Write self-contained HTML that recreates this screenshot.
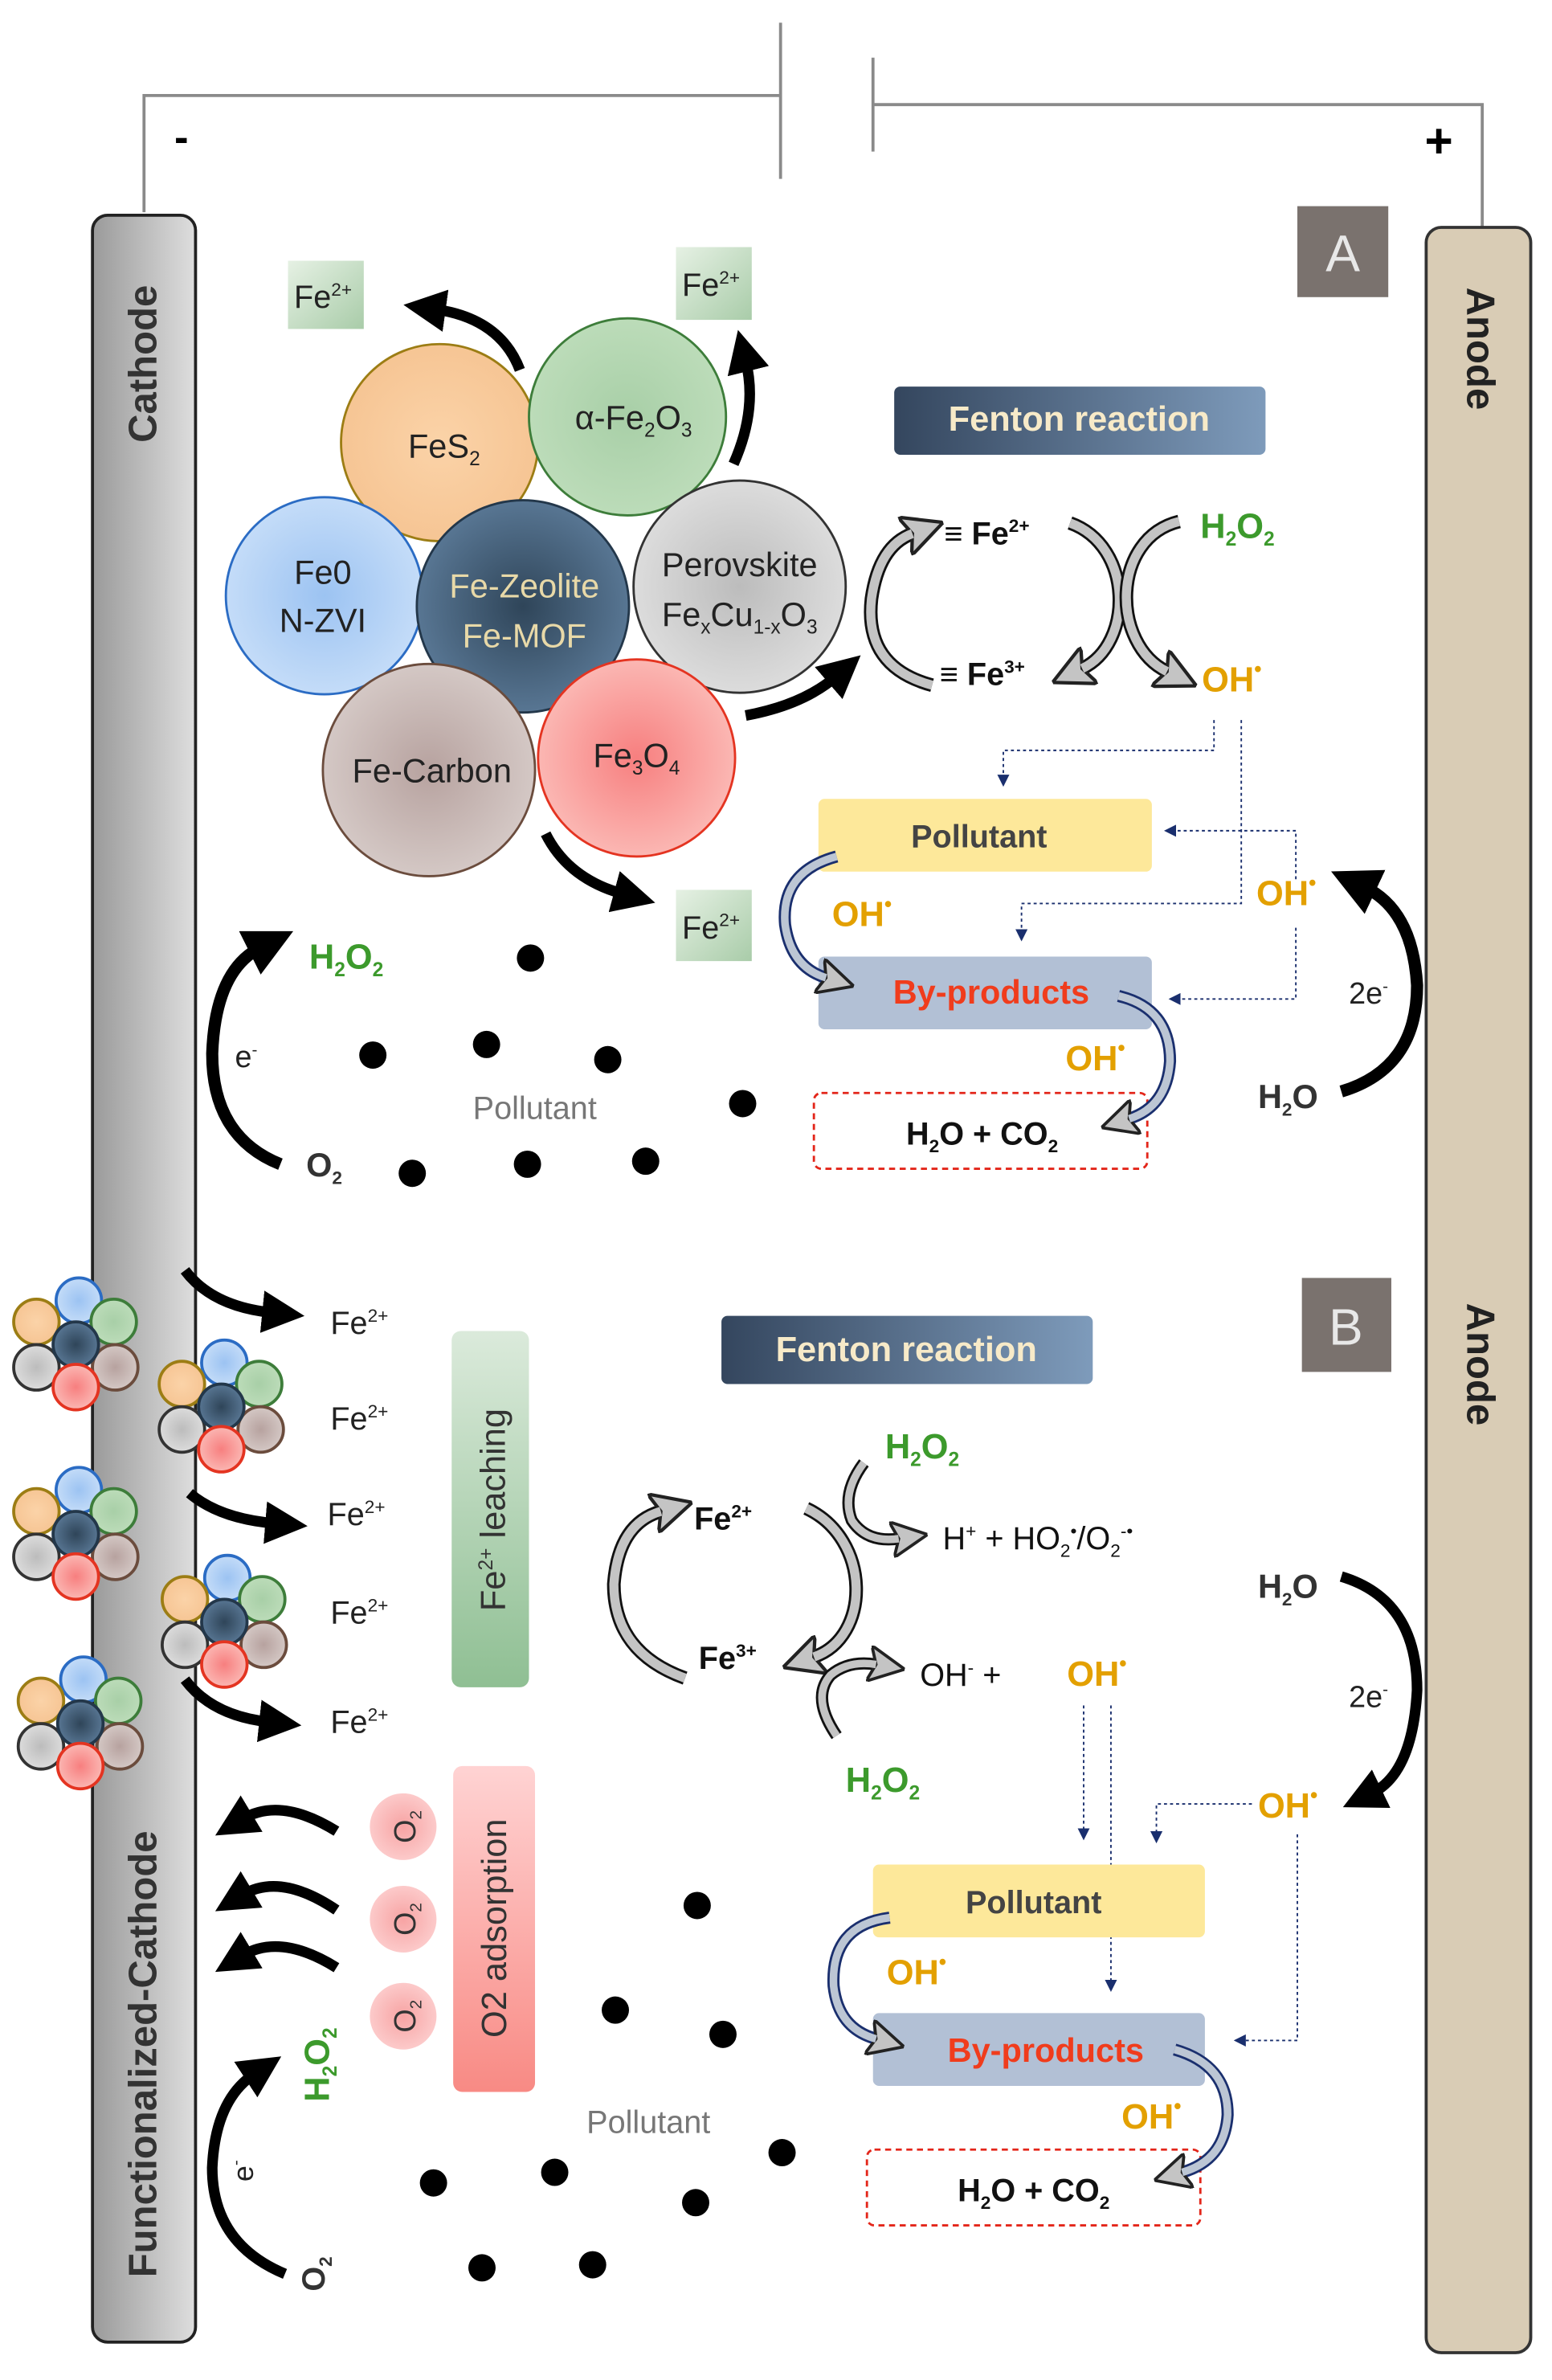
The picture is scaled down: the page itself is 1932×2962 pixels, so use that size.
<!DOCTYPE html>
<html><head><meta charset="utf-8"><style>
html,body{margin:0;padding:0;background:#fff}
svg{display:block}
text{font-family:"Liberation Sans","DejaVu Sans",sans-serif}
</style></head><body>
<svg width="1932" height="2962" viewBox="0 0 1024 1570" xmlns="http://www.w3.org/2000/svg">
<defs>
<linearGradient id="cath" x1="0" x2="1"><stop offset="0" stop-color="#9a9a9a"/><stop offset="1" stop-color="#dedede"/></linearGradient>
<linearGradient id="fent" x1="0" x2="1"><stop offset="0" stop-color="#34465e"/><stop offset="1" stop-color="#7e9bbb"/></linearGradient>
<linearGradient id="grn" x1="0" x2="0" y1="0" y2="1"><stop offset="0" stop-color="#dbeadb"/><stop offset="1" stop-color="#8fbf93"/></linearGradient>
<linearGradient id="red" x1="0" x2="0" y1="0" y2="1"><stop offset="0" stop-color="#ffd3d3"/><stop offset="1" stop-color="#f88a84"/></linearGradient>
<linearGradient id="feb" x1="0" x2="1" y1="0" y2="1"><stop offset="0" stop-color="#e6f1e4"/><stop offset="1" stop-color="#a9cca9"/></linearGradient>
<radialGradient id="gO"><stop offset="0" stop-color="#fbd3a8"/><stop offset="1" stop-color="#f6c594"/></radialGradient>
<radialGradient id="gG"><stop offset="0" stop-color="#a8cfa7"/><stop offset="1" stop-color="#bcdcb9"/></radialGradient>
<radialGradient id="gB"><stop offset="0" stop-color="#9cc3f2"/><stop offset="1" stop-color="#c4dcf8"/></radialGradient>
<radialGradient id="gD"><stop offset="0" stop-color="#2f4559"/><stop offset="1" stop-color="#587693"/></radialGradient>
<radialGradient id="gY"><stop offset="0" stop-color="#bcbcbc"/><stop offset="1" stop-color="#dcdcdc"/></radialGradient>
<radialGradient id="gC"><stop offset="0" stop-color="#b7a29f"/><stop offset="1" stop-color="#d4c8c5"/></radialGradient>
<radialGradient id="gR"><stop offset="0" stop-color="#f77f7f"/><stop offset="1" stop-color="#fbb7b3"/></radialGradient>
<radialGradient id="gP"><stop offset="0" stop-color="#f7a3a3"/><stop offset="1" stop-color="#fccaca"/></radialGradient>
<marker id="ab" markerWidth="4" markerHeight="4" refX="1" refY="2" orient="auto" markerUnits="strokeWidth"><path d="M0,0 L4,2 L0,4 Z" fill="#000"/></marker>
<marker id="ag" markerWidth="3" markerHeight="3" refX="0.6" refY="1.5" orient="auto" markerUnits="strokeWidth"><path d="M0,0 L3,1.5 L0,3 L0.6,1.5 Z" fill="#c4c4c4" stroke="#222" stroke-width="0.25"/></marker>
<marker id="an" markerWidth="8" markerHeight="8" refX="4" refY="4" orient="auto" markerUnits="userSpaceOnUse"><path d="M0,0 L8,4 L0,8 Z" fill="#1a2f6e"/></marker>
<g id="cl">
<circle cx="2" cy="-29" r="15" fill="url(#gB)" stroke="#2b6cc4" stroke-width="2"/>
<circle cx="-26" cy="-15" r="15" fill="url(#gO)" stroke="#9c7d14" stroke-width="2"/>
<circle cx="25" cy="-15" r="15" fill="url(#gG)" stroke="#3d7d3a" stroke-width="2"/>
<circle cx="-26" cy="15" r="15" fill="url(#gY)" stroke="#333" stroke-width="2"/>
<circle cx="26" cy="15" r="15" fill="url(#gC)" stroke="#6b4c3d" stroke-width="2"/>
<circle cx="0" cy="0" r="15" fill="url(#gD)" stroke="#23374a" stroke-width="2"/>
<circle cx="0" cy="28" r="15" fill="url(#gR)" stroke="#e43421" stroke-width="2"/>
</g>
</defs>

<polyline points="95,140 95,63 515,63" fill="none" stroke="#8a8a8a" stroke-width="2"/>
<line x1="515" y1="15" x2="515" y2="118" stroke="#8a8a8a" stroke-width="2"/>
<line x1="576" y1="38" x2="576" y2="100" stroke="#8a8a8a" stroke-width="2"/>
<polyline points="576,69 978,69 978,150" fill="none" stroke="#8a8a8a" stroke-width="2"/>
<text x="115" y="100" font-size="28" font-weight="bold">-</text>
<text x="940" y="104" font-size="32" font-weight="bold">+</text>

<rect x="61" y="142" width="68" height="1403" rx="10" fill="url(#cath)" stroke="#222" stroke-width="2"/>
<rect x="941" y="150" width="69" height="1402" rx="10" fill="#d9ccb5" stroke="#333" stroke-width="2"/>
<text transform="translate(103,240) rotate(-90)" font-size="26" font-weight="bold" fill="#333" text-anchor="middle">Cathode</text>
<text transform="translate(103,1355) rotate(-90)" font-size="26" font-weight="bold" fill="#333" text-anchor="middle">Functionalized-Cathode</text>
<text transform="translate(968,230) rotate(90)" font-size="26" font-weight="bold" fill="#222" text-anchor="middle">Anode</text>
<text transform="translate(968,900) rotate(90)" font-size="26" font-weight="bold" fill="#222" text-anchor="middle">Anode</text>

<rect x="856" y="136" width="60" height="60" fill="#7a726e"/>
<text x="886" y="179" font-size="34" fill="#e8e8e8" text-anchor="middle">A</text>
<rect x="859" y="843" width="59" height="62" fill="#7a726e"/>
<text x="888" y="887" font-size="34" fill="#e8e8e8" text-anchor="middle">B</text>

<g stroke-width="1.5">
<circle cx="290" cy="292" r="65" fill="url(#gO)" stroke="#9c7d14"/>
<circle cx="414" cy="275" r="65" fill="url(#gG)" stroke="#3d7d3a"/>
<circle cx="214" cy="393" r="65" fill="url(#gB)" stroke="#2b6cc4"/>
<circle cx="488" cy="387" r="70" fill="url(#gY)" stroke="#333"/>
<circle cx="345" cy="400" r="70" fill="url(#gD)" stroke="#23374a"/>
<circle cx="283" cy="508" r="70" fill="url(#gC)" stroke="#6b4c3d"/>
<circle cx="420" cy="500" r="65" fill="url(#gR)" stroke="#e43421"/>
</g>
<g font-size="22" fill="#222" text-anchor="middle">
<text x="293" y="302">FeS<tspan font-size="13" dy="5">2</tspan></text>
<text x="418" y="283">α-Fe<tspan font-size="13" dy="5">2</tspan><tspan dy="-5">O</tspan><tspan font-size="13" dy="5">3</tspan></text>
<text x="213" y="385">Fe0</text><text x="213" y="417">N-ZVI</text>
<text x="346" y="394" fill="#e8d9a8">Fe-Zeolite</text><text x="346" y="427" fill="#e8d9a8">Fe-MOF</text>
<text x="488" y="380">Perovskite</text>
<text x="488" y="413">Fe<tspan font-size="13" dy="5">x</tspan><tspan dy="-5">Cu</tspan><tspan font-size="13" dy="5">1-x</tspan><tspan dy="-5">O</tspan><tspan font-size="13" dy="5">3</tspan></text>
<text x="285" y="516">Fe-Carbon</text>
<text x="420" y="506">Fe<tspan font-size="13" dy="5">3</tspan><tspan dy="-5">O</tspan><tspan font-size="13" dy="5">4</tspan></text>
</g>
<g font-size="21" fill="#222">
<rect x="190" y="172" width="50" height="45" fill="url(#feb)"/><text x="194" y="203">Fe<tspan font-size="12" dy="-8">2+</tspan></text>
<rect x="446" y="163" width="50" height="48" fill="url(#feb)"/><text x="450" y="195">Fe<tspan font-size="12" dy="-8">2+</tspan></text>
<rect x="446" y="587" width="50" height="47" fill="url(#feb)"/><text x="450" y="619">Fe<tspan font-size="12" dy="-8">2+</tspan></text>
</g>
<g fill="none" stroke="#000" stroke-width="7">
<path d="M343,244 Q330,210 287,204" marker-end="url(#ab)"/>
<path d="M484,306 Q500,270 492,238" marker-end="url(#ab)"/>
<path d="M492,472 Q530,465 552,446" marker-end="url(#ab)"/>
<path d="M360,550 Q375,580 412,590" marker-end="url(#ab)"/>
</g>

<rect x="590" y="255" width="245" height="45" rx="4" fill="url(#fent)"/>
<text x="712" y="284" font-size="23" font-weight="bold" fill="#f7eac8" text-anchor="middle">Fenton reaction</text>
<g fill="none">
<path d="M615,452 Q570,440 575,395 Q580,360 602,352" stroke="#111" stroke-width="9" marker-end="url(#ag)"/>
<path d="M615,452 Q570,440 575,395 Q580,360 602,352" stroke="#c4c4c4" stroke-width="6"/>
<path d="M706,345 C748,360 748,425 714,441" stroke="#111" stroke-width="9" marker-end="url(#ag)"/>
<path d="M706,345 C748,360 748,425 714,441" stroke="#c4c4c4" stroke-width="6"/>
<path d="M778,344 C733,355 733,425 770,443" stroke="#111" stroke-width="9" marker-end="url(#ag)"/>
<path d="M778,344 C733,355 733,425 770,443" stroke="#c4c4c4" stroke-width="6"/>
</g>
<g font-size="21" font-weight="bold" fill="#111">
<text x="623" y="359">≡ Fe<tspan font-size="12" dy="-8">2+</tspan></text>
<text x="620" y="452">≡ Fe<tspan font-size="12" dy="-8">3+</tspan></text>
</g>
<text x="792" y="355" font-size="23" font-weight="bold" fill="#3c9a2c">H<tspan font-size="13" dy="5">2</tspan><tspan dy="-5">O</tspan><tspan font-size="13" dy="5">2</tspan></text>
<g font-size="23" font-weight="bold" fill="#e3a000">
<text x="793" y="456">OH<tspan font-size="14" dy="-10">•</tspan></text>
<text x="549" y="611">OH<tspan font-size="14" dy="-10">•</tspan></text>
<text x="703" y="706">OH<tspan font-size="14" dy="-10">•</tspan></text>
<text x="829" y="597">OH<tspan font-size="14" dy="-10">•</tspan></text>
</g>
<g fill="none" stroke="#1a2f6e" stroke-width="1" stroke-dasharray="2,2">
<polyline points="801,475 801,495 662,495 662,515" marker-end="url(#an)"/>
<polyline points="819,475 819,596 674,596 674,617" marker-end="url(#an)"/>
<polyline points="855,580 855,548 772,548" marker-end="url(#an)"/>
<polyline points="855,612 855,659 775,659" marker-end="url(#an)"/>
</g>
<rect x="540" y="527" width="220" height="48" rx="4" fill="#fde89a"/>
<text x="646" y="559" font-size="21" font-weight="bold" fill="#444" text-anchor="middle">Pollutant</text>
<rect x="540" y="631" width="220" height="48" rx="4" fill="#b2c0d5"/>
<text x="654" y="662" font-size="22" font-weight="bold" fill="#f03c1c" text-anchor="middle">By-products</text>
<rect x="537" y="721" width="220" height="50" rx="5" fill="#fff" stroke="#e3261a" stroke-width="1.5" stroke-dasharray="4,3"/>
<text x="648" y="755" font-size="21" font-weight="bold" fill="#111" text-anchor="middle">H<tspan font-size="12" dy="5">2</tspan><tspan dy="-5">O + CO</tspan><tspan font-size="12" dy="5">2</tspan></text>
<g fill="none">
<path d="M552,565 Q515,575 518,610 Q522,638 545,645" stroke="#1a2f6e" stroke-width="8" marker-end="url(#ag)"/>
<path d="M552,565 Q515,575 518,610 Q522,638 545,645" stroke="#bcc6d4" stroke-width="5"/>
<path d="M738,657 Q772,665 772,700 Q770,730 745,738" stroke="#1a2f6e" stroke-width="8" marker-end="url(#ag)"/>
<path d="M738,657 Q772,665 772,700 Q770,730 745,738" stroke="#bcc6d4" stroke-width="5"/>
</g>
<g fill="none" stroke="#000" stroke-width="8">
<path d="M885,720 Q935,705 935,650 Q932,600 900,585" marker-end="url(#ab)"/>
<path d="M185,768 Q140,750 140,695 Q142,640 172,625" marker-end="url(#ab)"/>
</g>
<text x="830" y="731" font-size="22" font-weight="bold" fill="#333">H<tspan font-size="12" dy="5">2</tspan><tspan dy="-5">O</tspan></text>
<text x="890" y="662" font-size="20" fill="#222">2e<tspan font-size="11" dy="-8">-</tspan></text>
<text x="204" y="639" font-size="23" font-weight="bold" fill="#3c9a2c">H<tspan font-size="13" dy="5">2</tspan><tspan dy="-5">O</tspan><tspan font-size="13" dy="5">2</tspan></text>
<text x="155" y="704" font-size="20" fill="#222">e<tspan font-size="11" dy="-8">-</tspan></text>
<text x="202" y="776" font-size="22" font-weight="bold" fill="#333">O<tspan font-size="12" dy="5">2</tspan></text>
<text x="312" y="738" font-size="21" fill="#777">Pollutant</text>
<g fill="#000">
<circle cx="350" cy="632" r="9"/><circle cx="246" cy="696" r="9"/><circle cx="321" cy="689" r="9"/>
<circle cx="401" cy="699" r="9"/><circle cx="490" cy="728" r="9"/><circle cx="272" cy="774" r="9"/>
<circle cx="348" cy="768" r="9"/><circle cx="426" cy="766" r="9"/>
</g>

<use href="#cl" x="50" y="887"/>
<use href="#cl" x="146" y="928"/>
<use href="#cl" x="50" y="1012"/>
<use href="#cl" x="148" y="1070"/>
<use href="#cl" x="53" y="1137"/>
<g fill="none" stroke="#000" stroke-width="7">
<path d="M122,838 Q140,862 180,866" marker-end="url(#ab)"/>
<path d="M125,985 Q145,1002 182,1005" marker-end="url(#ab)"/>
<path d="M122,1108 Q140,1132 178,1136" marker-end="url(#ab)"/>
<path d="M222,1208 Q185,1185 160,1200" marker-end="url(#ab)"/>
<path d="M222,1260 Q185,1235 160,1250" marker-end="url(#ab)"/>
<path d="M222,1298 Q185,1275 160,1290" marker-end="url(#ab)"/>
<path d="M188,1500 Q140,1480 140,1430 Q142,1385 168,1368" marker-end="url(#ab)"/>
<path d="M885,1040 Q935,1055 935,1115 Q932,1170 905,1183" marker-end="url(#ab)"/>
</g>
<g font-size="21" fill="#222">
<text x="218" y="880">Fe<tspan font-size="12" dy="-8">2+</tspan></text>
<text x="218" y="943">Fe<tspan font-size="12" dy="-8">2+</tspan></text>
<text x="216" y="1006">Fe<tspan font-size="12" dy="-8">2+</tspan></text>
<text x="218" y="1071">Fe<tspan font-size="12" dy="-8">2+</tspan></text>
<text x="218" y="1143">Fe<tspan font-size="12" dy="-8">2+</tspan></text>
</g>
<rect x="298" y="878" width="51" height="235" rx="6" fill="url(#grn)"/>
<text transform="translate(333,996) rotate(-90)" font-size="23" fill="#333" text-anchor="middle">Fe<tspan font-size="13" dy="-8">2+</tspan><tspan dy="8"> leaching</tspan></text>
<rect x="299" y="1165" width="54" height="215" rx="6" fill="url(#red)"/>
<text transform="translate(334,1272) rotate(-90)" font-size="23" fill="#333" text-anchor="middle">O2 adsorption</text>
<g>
<circle cx="266" cy="1205" r="22" fill="url(#gP)"/><circle cx="266" cy="1266" r="22" fill="url(#gP)"/><circle cx="266" cy="1330" r="22" fill="url(#gP)"/>
<text transform="translate(274,1205) rotate(-90)" font-size="20" fill="#333" text-anchor="middle">O<tspan font-size="11" dy="4">2</tspan></text>
<text transform="translate(274,1266) rotate(-90)" font-size="20" fill="#333" text-anchor="middle">O<tspan font-size="11" dy="4">2</tspan></text>
<text transform="translate(274,1330) rotate(-90)" font-size="20" fill="#333" text-anchor="middle">O<tspan font-size="11" dy="4">2</tspan></text>
</g>
<text transform="translate(217,1362) rotate(-90)" font-size="23" font-weight="bold" fill="#3c9a2c" text-anchor="middle">H<tspan font-size="13" dy="5">2</tspan><tspan dy="-5">O</tspan><tspan font-size="13" dy="5">2</tspan></text>
<text transform="translate(167,1432) rotate(-90)" font-size="19" fill="#222" text-anchor="middle">e<tspan font-size="11" dy="-8">-</tspan></text>
<text transform="translate(214,1500) rotate(-90)" font-size="21" font-weight="bold" fill="#333" text-anchor="middle">O<tspan font-size="12" dy="5">2</tspan></text>
<text x="387" y="1407" font-size="21" fill="#777">Pollutant</text>
<g fill="#000">
<circle cx="460" cy="1257" r="9"/><circle cx="406" cy="1326" r="9"/><circle cx="477" cy="1342" r="9"/>
<circle cx="516" cy="1420" r="9"/><circle cx="286" cy="1440" r="9"/><circle cx="366" cy="1433" r="9"/>
<circle cx="459" cy="1453" r="9"/><circle cx="318" cy="1496" r="9"/><circle cx="391" cy="1494" r="9"/>
</g>

<rect x="476" y="868" width="245" height="45" rx="4" fill="url(#fent)"/>
<text x="598" y="898" font-size="23" font-weight="bold" fill="#f7eac8" text-anchor="middle">Fenton reaction</text>
<g fill="none">
<path d="M452,1107 Q405,1090 405,1045 Q408,1005 436,997" stroke="#111" stroke-width="9" marker-end="url(#ag)"/>
<path d="M452,1107 Q405,1090 405,1045 Q408,1005 436,997" stroke="#c4c4c4" stroke-width="6"/>
<path d="M532,995 C575,1015 575,1080 537,1093" stroke="#111" stroke-width="9" marker-end="url(#ag)"/>
<path d="M532,995 C575,1015 575,1080 537,1093" stroke="#c4c4c4" stroke-width="6"/>
<path d="M570,965 Q555,985 562,1003 Q572,1018 593,1015" stroke="#111" stroke-width="8" marker-end="url(#ag)"/>
<path d="M570,965 Q555,985 562,1003 Q572,1018 593,1015" stroke="#c4c4c4" stroke-width="5"/>
<path d="M552,1145 Q535,1120 548,1105 Q560,1095 578,1098" stroke="#111" stroke-width="8" marker-end="url(#ag)"/>
<path d="M552,1145 Q535,1120 548,1105 Q560,1095 578,1098" stroke="#c4c4c4" stroke-width="5"/>
</g>
<g font-size="21" font-weight="bold" fill="#111">
<text x="458" y="1009">Fe<tspan font-size="12" dy="-8">2+</tspan></text>
<text x="461" y="1101">Fe<tspan font-size="12" dy="-8">3+</tspan></text>
<text x="622" y="1022" font-weight="normal">H<tspan font-size="12" dy="-8">+</tspan><tspan dy="8"> + HO</tspan><tspan font-size="12" dy="5">2</tspan><tspan dy="-13" font-size="12">•</tspan><tspan dy="8">/O</tspan><tspan font-size="12" dy="5">2</tspan><tspan font-size="12" dy="-13">-•</tspan></text>
<text x="607" y="1112" font-weight="normal">OH<tspan font-size="12" dy="-8">-</tspan><tspan dy="8">  + </tspan></text>
</g>
<text x="584" y="962" font-size="23" font-weight="bold" fill="#3c9a2c">H<tspan font-size="13" dy="5">2</tspan><tspan dy="-5">O</tspan><tspan font-size="13" dy="5">2</tspan></text>
<text x="558" y="1182" font-size="23" font-weight="bold" fill="#3c9a2c">H<tspan font-size="13" dy="5">2</tspan><tspan dy="-5">O</tspan><tspan font-size="13" dy="5">2</tspan></text>
<g font-size="23" font-weight="bold" fill="#e3a000">
<text x="704" y="1112">OH<tspan font-size="14" dy="-10">•</tspan></text>
<text x="830" y="1199">OH<tspan font-size="14" dy="-10">•</tspan></text>
<text x="585" y="1309">OH<tspan font-size="14" dy="-10">•</tspan></text>
<text x="740" y="1404">OH<tspan font-size="14" dy="-10">•</tspan></text>
</g>
<text x="830" y="1054" font-size="22" font-weight="bold" fill="#333">H<tspan font-size="12" dy="5">2</tspan><tspan dy="-5">O</tspan></text>
<text x="890" y="1126" font-size="20" fill="#222">2e<tspan font-size="11" dy="-8">-</tspan></text>
<g fill="none" stroke="#1a2f6e" stroke-width="1" stroke-dasharray="2,2">
<line x1="715" y1="1125" x2="715" y2="1210" marker-end="url(#an)"/>
<line x1="733" y1="1125" x2="733" y2="1310" marker-end="url(#an)"/>
<polyline points="826,1190 763,1190 763,1212" marker-end="url(#an)"/>
<polyline points="856,1210 856,1346 818,1346" marker-end="url(#an)"/>
</g>
<rect x="576" y="1230" width="219" height="48" rx="4" fill="#fde89a"/>
<text x="682" y="1262" font-size="21" font-weight="bold" fill="#444" text-anchor="middle">Pollutant</text>
<rect x="576" y="1328" width="219" height="48" rx="4" fill="#b2c0d5"/>
<text x="690" y="1360" font-size="22" font-weight="bold" fill="#f03c1c" text-anchor="middle">By-products</text>
<rect x="572" y="1418" width="220" height="50" rx="5" fill="#fff" stroke="#e3261a" stroke-width="1.5" stroke-dasharray="4,3"/>
<text x="682" y="1452" font-size="21" font-weight="bold" fill="#111" text-anchor="middle">H<tspan font-size="12" dy="5">2</tspan><tspan dy="-5">O + CO</tspan><tspan font-size="12" dy="5">2</tspan></text>
<g fill="none">
<path d="M587,1265 Q548,1270 550,1310 Q553,1338 578,1345" stroke="#1a2f6e" stroke-width="8" marker-end="url(#ag)"/>
<path d="M587,1265 Q548,1270 550,1310 Q553,1338 578,1345" stroke="#bcc6d4" stroke-width="5"/>
<path d="M775,1352 Q810,1362 810,1395 Q808,1425 780,1433" stroke="#1a2f6e" stroke-width="8" marker-end="url(#ag)"/>
<path d="M775,1352 Q810,1362 810,1395 Q808,1425 780,1433" stroke="#bcc6d4" stroke-width="5"/>
</g>
</svg>
</body></html>
